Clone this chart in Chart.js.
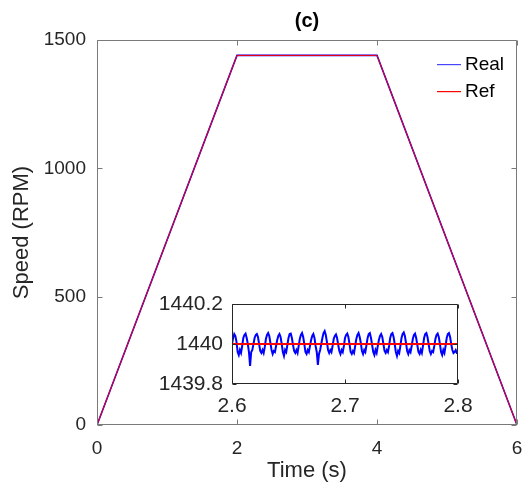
<!DOCTYPE html>
<html>
<head>
<meta charset="utf-8">
<script src="https://cdn.jsdelivr.net/npm/chart.js@4/dist/chart.umd.min.js"></script>
<style>
  html, body { margin: 0; padding: 0; background: #fff; }
  #wrap { position: relative; width: 528px; height: 487px; }
  #main { position: absolute; left: 0; top: 0; }
  #inset { position: absolute; left: 150px; top: 290px; }
</style>
</head>
<body>
<div id="wrap">
  <canvas id="main" width="528" height="487"></canvas>
  <canvas id="inset" width="345" height="140"></canvas>
</div>
<script>
// Speed profile: ramp up, hold, ramp down
const refTime = [0, 2, 4, 6];
const refSpeed = [0, 1440, 1440, 0];
const realTime = [0, 2, 4, 6];
const realSpeed = [0, 1440, 1440, 0];

// Zoomed window on the hold section
const insetStart = 2.6;
const insetStep = 0.001;
const insetRef = 1440;
// measured speed minus 1440 RPM, one sample per millisecond from 2.600 s to 2.800 s
const realOffset = [
  0.00, 0.03, 0.05, 0.04, 0.01, -0.04, -0.055, -0.03, -0.045, -0.01,
  0.03, 0.045, 0.052, 0.03, 0.00, -0.04, -0.11, -0.04, -0.03, 0.00,
  0.03, 0.045, 0.05, 0.035, 0.00, -0.035, -0.045, -0.03, -0.045, -0.015,
  0.025, 0.045, 0.055, 0.04, 0.005, -0.03, -0.05, -0.035, -0.04, -0.01,
  0.02, 0.04, 0.05, 0.035, 0.00, -0.04, -0.06, -0.03, -0.04, -0.005,
  0.03, 0.05, 0.052, 0.03, -0.005, -0.035, -0.045, -0.03, -0.045, -0.01,
  0.025, 0.045, 0.055, 0.035, 0.00, -0.04, -0.05, -0.03, -0.04, -0.01,
  0.02, 0.04, 0.05, 0.03, -0.01, -0.04, -0.105, -0.05, -0.03, 0.00,
  0.03, 0.055, 0.065, 0.045, 0.01, -0.03, -0.045, -0.03, -0.04, -0.01,
  0.025, 0.04, 0.048, 0.03, -0.005, -0.035, -0.05, -0.03, -0.04, -0.01,
  0.03, 0.045, 0.052, 0.035, 0.00, -0.04, -0.05, -0.035, -0.045, -0.01,
  0.025, 0.045, 0.055, 0.035, 0.005, -0.035, -0.05, -0.03, -0.04, -0.005,
  0.03, 0.05, 0.055, 0.03, -0.005, -0.04, -0.055, -0.03, -0.045, -0.01,
  0.02, 0.04, 0.05, 0.035, 0.00, -0.035, -0.045, -0.03, -0.04, -0.01,
  0.03, 0.05, 0.055, 0.035, 0.00, -0.04, -0.06, -0.035, -0.045, -0.01,
  0.03, 0.05, 0.058, 0.04, 0.005, -0.035, -0.05, -0.03, -0.04, -0.01,
  0.025, 0.045, 0.052, 0.03, -0.005, -0.04, -0.05, -0.03, -0.045, -0.01,
  0.03, 0.05, 0.055, 0.035, 0.00, -0.035, -0.05, -0.035, -0.04, -0.01,
  0.025, 0.045, 0.052, 0.035, 0.00, -0.04, -0.055, -0.03, -0.045, -0.01,
  0.03, 0.05, 0.055, 0.035, 0.00, -0.03, -0.045, -0.04, -0.03, -0.045,
  -0.045
];

const mainXTicks = [0, 2, 4, 6];
const mainYTicks = [0, 500, 1000, 1500];
const insetXTicks = [2.6, 2.7, 2.8];
const insetYTicks = [1439.8, 1440, 1440.2];

const FONT = "'Liberation Sans', Arial, sans-serif";
const TXT = '#262626';
const BLUE = '#0000ff';
const RED = '#ff0000';

const legendEntries = [
  { label: 'Real', color: '#4646ff' },
  { label: 'Ref', color: RED }
];

const pts = (xs, ys) => xs.map((x, i) => ({ x, y: ys[i] }));

// Box around the plot area with short inward ticks on all four sides
const makeFrame = (color, tickLen, fill) => ({
  id: 'frame',
  beforeDatasetsDraw(chart) {
    if (!fill) return;
    const { ctx, chartArea: a } = chart;
    ctx.save();
    ctx.fillStyle = fill;
    ctx.fillRect(a.left, a.top, a.right - a.left, a.bottom - a.top);
    ctx.restore();
  },
  afterDatasetsDraw(chart) {
    const { ctx, chartArea: a, scales } = chart;
    const L = Math.round(a.left) + 0.5, R = Math.round(a.right) - 0.5;
    const T = Math.round(a.top) + 0.5, B = Math.round(a.bottom) - 0.5;
    ctx.save();
    ctx.strokeStyle = color;
    ctx.lineWidth = 1;
    ctx.beginPath();
    ctx.rect(L, T, R - L, B - T);
    scales.x.ticks.forEach(t => {
      const px = Math.round(scales.x.getPixelForValue(t.value)) + 0.5;
      ctx.moveTo(px, B); ctx.lineTo(px, B - tickLen);
      ctx.moveTo(px, T); ctx.lineTo(px, T + tickLen);
    });
    scales.y.ticks.forEach(t => {
      const py = Math.round(scales.y.getPixelForValue(t.value)) + 0.5;
      ctx.moveTo(L, py); ctx.lineTo(L + tickLen, py);
      ctx.moveTo(R, py); ctx.lineTo(R - tickLen, py);
    });
    ctx.stroke();
    ctx.restore();
  }
});

// Legend inside the upper right corner of the plot area
const cornerLegend = {
  id: 'cornerLegend',
  afterDraw(chart) {
    const { ctx, chartArea: a } = chart;
    ctx.save();
    ctx.font = `19px ${FONT}`;
    ctx.textBaseline = 'middle';
    ctx.textAlign = 'left';
    legendEntries.forEach((e, i) => {
      const yy = Math.round(a.top + 24 + i * 27);
      ctx.fillStyle = e.color;
      ctx.fillRect(Math.round(a.right) - 80, yy, 24, 1.2);
      ctx.fillStyle = '#000';
      ctx.fillText(e.label, Math.round(a.right) - 52, yy + 0.5);
    });
    ctx.restore();
  }
};

const fmt = v => String(Math.round(v * 10) / 10);
// keep the plot area exactly where the layout padding puts it
const noXPad = s => { s.paddingLeft = 0; s.paddingRight = 0; };
const noYPad = s => { s.paddingTop = 0; s.paddingBottom = 0; };

new Chart(document.getElementById('main'), {
  type: 'line',
  data: {
    datasets: [
      { label: 'Real', data: pts(realTime, realSpeed), borderColor: BLUE,
        borderWidth: 1.6, pointRadius: 0, order: 2 },
      { label: 'Ref', data: pts(refTime, refSpeed), borderColor: RED,
        borderWidth: 1, pointRadius: 0, order: 1 }
    ]
  },
  options: {
    responsive: false,
    animation: false,
    devicePixelRatio: 1,
    layout: { padding: { left: 0, right: 11, top: 0, bottom: 0 } },
    plugins: {
      legend: { display: false },
      tooltip: { enabled: false },
      title: {
        display: true, text: '(c)', color: '#000', fullSize: false,
        font: { family: FONT, size: 20, weight: 'bold' },
        padding: { top: 9, bottom: 7 }
      }
    },
    scales: {
      x: {
        type: 'linear', min: 0, max: 6,
        afterBuildTicks: s => { s.ticks = mainXTicks.map(v => ({ value: v })); },
        afterFit: s => { s.height = 62; noXPad(s); },
        grid: { display: false, drawTicks: false },
        border: { display: false },
        ticks: { color: TXT, font: { family: FONT, size: 19 }, padding: 12, maxRotation: 0, callback: fmt },
        title: { display: true, text: 'Time (s)', color: TXT, font: { family: FONT, size: 22 }, padding: { top: 0, bottom: 3 } }
      },
      y: {
        type: 'linear', min: 0, max: 1500,
        afterBuildTicks: s => { s.ticks = mainYTicks.map(v => ({ value: v })); },
        afterFit: s => { s.width = 97; noYPad(s); },
        grid: { display: false, drawTicks: false },
        border: { display: false },
        ticks: { color: TXT, font: { family: FONT, size: 19 }, padding: 11, callback: fmt },
        title: { display: true, text: 'Speed (RPM)', color: TXT, font: { family: FONT, size: 22 }, padding: { top: 9, bottom: 0 } }
      }
    }
  },
  plugins: [makeFrame('#7a7a7a', 5, null), cornerLegend]
});

const insetTime = realOffset.map((_, i) => +(insetStart + i * insetStep).toFixed(3));
const insetReal = realOffset.map(d => insetRef + d);
const insetRefLine = [insetRef, insetRef];
const insetRefTime = [insetTime[0], insetTime[insetTime.length - 1]];

new Chart(document.getElementById('inset'), {
  type: 'line',
  data: {
    datasets: [
      { label: 'Real', data: pts(insetTime, insetReal), borderColor: BLUE,
        borderWidth: 2, pointRadius: 0, tension: 0, order: 2 },
      { label: 'Ref', data: pts(insetRefTime, insetRefLine), borderColor: RED,
        borderWidth: 2, pointRadius: 0, order: 1 }
    ]
  },
  options: {
    responsive: false,
    animation: false,
    devicePixelRatio: 1,
    layout: { padding: { left: 0, right: 37, top: 14, bottom: 0 } },
    plugins: {
      legend: { display: false },
      tooltip: { enabled: false },
      title: { display: false }
    },
    scales: {
      x: {
        type: 'linear', min: 2.6, max: 2.8,
        afterBuildTicks: s => { s.ticks = insetXTicks.map(v => ({ value: v })); },
        afterFit: s => { s.height = 46; noXPad(s); },
        grid: { display: false, drawTicks: false },
        border: { display: false },
        ticks: { color: TXT, font: { family: FONT, size: 21 }, padding: 10, maxRotation: 0, callback: fmt }
      },
      y: {
        type: 'linear', min: 1439.8, max: 1440.2,
        afterBuildTicks: s => { s.ticks = insetYTicks.map(v => ({ value: v })); },
        afterFit: s => { s.width = 82; noYPad(s); },
        grid: { display: false, drawTicks: false },
        border: { display: false },
        ticks: { color: TXT, font: { family: FONT, size: 21 }, padding: 9, callback: fmt }
      }
    }
  },
  plugins: [makeFrame('#262626', 4, '#ffffff')]
});
</script>
</body>
</html>
